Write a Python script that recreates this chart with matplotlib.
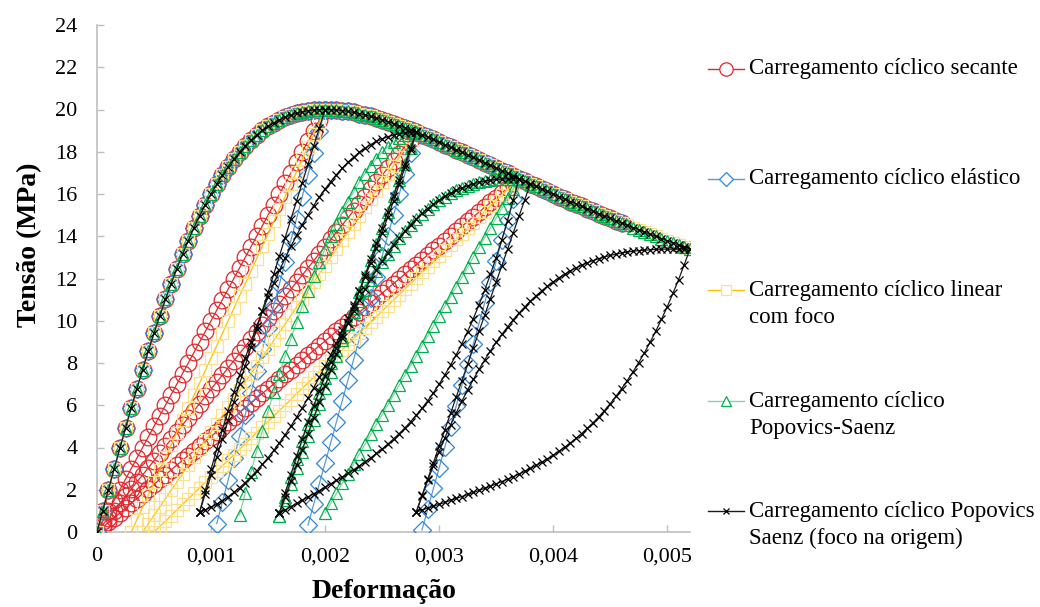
import matplotlib.pyplot as plt
from matplotlib.lines import Line2D
from matplotlib.ticker import FixedLocator

plt.rcParams['font.family'] = ['Liberation Serif', 'DejaVu Serif']

# strain grid used by every model (step 0.00005) and the monotonic envelope
ENV_EPS = [0.0, 0.00005, 0.0001, 0.00015, 0.0002, 0.00025, 0.0003, 0.00035, 0.0004, 0.00045,
           0.0005, 0.00055, 0.0006, 0.00065, 0.0007, 0.00075, 0.0008, 0.00085, 0.0009, 0.00095,
           0.001, 0.00105, 0.0011, 0.00115, 0.0012, 0.00125, 0.0013, 0.00135, 0.0014, 0.00145,
           0.0015, 0.00155, 0.0016, 0.00165, 0.0017, 0.00175, 0.0018, 0.00185, 0.0019, 0.00195,
           0.002, 0.00205, 0.0021, 0.00215, 0.0022, 0.00225, 0.0023, 0.00235, 0.0024, 0.00245,
           0.0025, 0.00255, 0.0026, 0.00265, 0.0027, 0.00275, 0.0028, 0.00285, 0.0029, 0.00295,
           0.003, 0.00305, 0.0031, 0.00315, 0.0032, 0.00325, 0.0033, 0.00335, 0.0034, 0.00345,
           0.0035, 0.00355, 0.0036, 0.00365, 0.0037, 0.00375, 0.0038, 0.00385, 0.0039, 0.00395,
           0.004, 0.00405, 0.0041, 0.00415, 0.0042, 0.00425, 0.0043, 0.00435, 0.0044, 0.00445,
           0.0045, 0.00455, 0.0046, 0.00465, 0.0047, 0.00475, 0.0048, 0.00485, 0.0049, 0.00495,
           0.005, 0.00505, 0.0051, 0.00515, 0.0052]
ENV_SIG = [0.0, 1.0, 2.0, 2.98, 3.96, 4.92, 5.87, 6.79, 7.69, 8.57,
           9.41, 10.23, 11.01, 11.76, 12.47, 13.15, 13.79, 14.40, 14.97, 15.50,
           16.0, 16.46, 16.89, 17.29, 17.65, 17.98, 18.28, 18.55, 18.79, 19.01,
           19.20, 19.37, 19.51, 19.64, 19.74, 19.82, 19.89, 19.94, 19.97, 19.99,
           20.0, 19.99, 19.98, 19.95, 19.91, 19.86, 19.81, 19.74, 19.67, 19.60,
           19.51, 19.42, 19.33, 19.23, 19.13, 19.03, 18.92, 18.81, 18.70, 18.58,
           18.46, 18.34, 18.22, 18.10, 17.98, 17.85, 17.73, 17.61, 17.48, 17.36,
           17.23, 17.11, 16.98, 16.86, 16.73, 16.61, 16.49, 16.36, 16.24, 16.12,
           16.0, 15.88, 15.76, 15.64, 15.53, 15.41, 15.30, 15.18, 15.07, 14.96,
           14.85, 14.74, 14.63, 14.52, 14.41, 14.31, 14.20, 14.10, 14.00, 13.89,
           13.79, 13.69, 13.60, 13.50, 13.40]

# secant model: straight lines back to the origin (grid index 0 upwards)
RED_1 = [0.0, 0.5, 1.0, 1.5, 2.0, 2.5, 3.0, 3.5, 4.0, 4.5, 5.0, 5.5, 6.0, 6.5, 7.0, 7.5, 8.0,
         8.5, 9.0, 9.5, 10.0, 10.5, 11.0, 11.5, 12.0, 12.5, 13.0, 13.5, 14.0, 14.5, 15.0, 15.5,
         16.0, 16.5, 17.0, 17.5, 18.0, 18.5, 19.0, 19.5, 20.0]
RED_2 = [0.0, 0.34, 0.68, 1.01, 1.35, 1.69, 2.03, 2.37, 2.70, 3.04, 3.38, 3.72, 4.05, 4.39,
         4.73, 5.07, 5.41, 5.74, 6.08, 6.42, 6.76, 7.10, 7.43, 7.77, 8.11, 8.45, 8.78, 9.12,
         9.46, 9.80, 10.14, 10.47, 10.81, 11.15, 11.49, 11.83, 12.16, 12.50, 12.84, 13.18,
         13.51, 13.85, 14.19, 14.53, 14.87, 15.20, 15.54, 15.88, 16.22, 16.56, 16.89, 17.23,
         17.57, 17.91, 18.25, 18.58, 18.92]
RED_3 = [0.0, 0.23, 0.45, 0.68, 0.90, 1.13, 1.36, 1.58, 1.81, 2.03, 2.26, 2.49, 2.71, 2.94,
         3.17, 3.39, 3.62, 3.84, 4.07, 4.30, 4.52, 4.75, 4.97, 5.20, 5.43, 5.65, 5.88, 6.10,
         6.33, 6.56, 6.78, 7.01, 7.23, 7.46, 7.69, 7.91, 8.14, 8.37, 8.59, 8.82, 9.04, 9.27,
         9.50, 9.72, 9.95, 10.17, 10.40, 10.63, 10.85, 11.08, 11.30, 11.53, 11.76, 11.98,
         12.21, 12.43, 12.66, 12.89, 13.11, 13.34, 13.56, 13.79, 14.02, 14.24, 14.47, 14.70,
         14.92, 15.15, 15.37, 15.60, 15.83, 16.05, 16.28, 16.50, 16.73]

# elastic model: unloading with the initial modulus
BLUE_1 = [0.4, 1.43, 2.46, 3.49, 4.53, 5.56, 6.59, 7.62, 8.65, 9.68, 10.72, 11.75, 12.78,
          13.81, 14.84, 15.87, 16.91, 17.94, 18.97, 20.0]
BLUE_2 = [0.33, 1.31, 2.29, 3.26, 4.24, 5.22, 6.20, 7.18, 8.16, 9.13, 10.11, 11.09, 12.07,
          13.05, 14.03, 15.00, 15.98, 16.96, 17.94, 18.92]
BLUE_3 = [0.1, 1.08, 2.06, 3.03, 4.01, 4.99, 5.97, 6.95, 7.93, 8.90, 9.88, 10.86, 11.84,
          12.82, 13.80, 14.77, 15.75, 16.73]

# linear model with focal point
YELLOW_1 = [0.0, 0.59, 1.18, 1.76, 2.35, 2.94, 3.53, 4.12, 4.71, 5.29, 5.88, 6.47, 7.06, 7.65,
            8.24, 8.82, 9.41, 10.0, 10.59, 11.18, 11.76, 12.35, 12.94, 13.53, 14.12, 14.71,
            15.29, 15.88, 16.47, 17.06, 17.65, 18.24, 18.82, 19.41, 20.0]
YELLOW_2 = [0.0, 0.39, 0.79, 1.18, 1.58, 1.97, 2.37, 2.76, 3.15, 3.55, 3.94, 4.34, 4.73, 5.12,
            5.52, 5.91, 6.31, 6.70, 7.10, 7.49, 7.88, 8.28, 8.67, 9.07, 9.46, 9.85, 10.25,
            10.64, 11.04, 11.43, 11.83, 12.22, 12.61, 13.01, 13.40, 13.80, 14.19, 14.58, 14.98,
            15.37, 15.77, 16.16, 16.56, 16.95, 17.34, 17.74, 18.13, 18.53, 18.92]
YELLOW_3 = [0.0, 0.26, 0.52, 0.78, 1.05, 1.31, 1.57, 1.83, 2.09, 2.35, 2.61, 2.88, 3.14, 3.40,
            3.66, 3.92, 4.18, 4.44, 4.71, 4.97, 5.23, 5.49, 5.75, 6.01, 6.27, 6.54, 6.80, 7.06,
            7.32, 7.58, 7.84, 8.10, 8.37, 8.63, 8.89, 9.15, 9.41, 9.67, 9.93, 10.19, 10.46,
            10.72, 10.98, 11.24, 11.50, 11.76, 12.02, 12.29, 12.55, 12.81, 13.07, 13.33, 13.59,
            13.85, 14.12, 14.38, 14.64, 14.90, 15.16, 15.42, 15.68, 15.95, 16.21, 16.47, 16.73]

# Popovics-Saenz
GREEN_A1 = [0.80, 1.84, 2.85, 3.83, 4.79, 5.72, 6.62, 7.49, 8.33, 9.15, 9.93, 10.69, 11.41,
            12.11, 12.78, 13.41, 14.01, 14.59, 15.13, 15.64, 16.11, 16.56, 16.96, 17.34, 17.68,
            17.98, 18.24, 18.47, 18.65, 18.79, 18.88, 18.92]
GREEN_L2 = [0.75, 1.51, 2.26, 3.02, 3.78, 4.54, 5.29, 6.05, 6.81, 7.56, 8.32, 9.08, 9.84,
            10.59, 11.35, 12.11, 12.86, 13.62, 14.38, 15.14, 15.89, 16.65, 17.41, 18.16, 18.92]
GREEN_A2 = [0.75, 1.68, 2.59, 3.45, 4.29, 5.09, 5.86, 6.60, 7.31, 7.99, 8.63, 9.25, 9.84, 10.40,
            10.93, 11.44, 11.91, 12.36, 12.79, 13.18, 13.56, 13.91, 14.23, 14.53, 14.81, 15.06,
            15.30, 15.51, 15.70, 15.88, 16.03, 16.17, 16.29, 16.39, 16.48, 16.55, 16.61, 16.65,
            16.69, 16.71, 16.72, 16.73, 16.73]
GREEN_L3 = [0.90, 1.37, 1.83, 2.30, 2.76, 3.23, 3.69, 4.16, 4.62, 5.09, 5.56, 6.02, 6.49, 6.95,
            7.42, 7.88, 8.35, 8.82, 9.28, 9.75, 10.21, 10.68, 11.14, 11.61, 12.07, 12.54, 13.01,
            13.47, 13.94, 14.40, 14.87, 15.33, 15.80, 16.26, 16.73]

# Popovics-Saenz with the focus at the origin
BLACK_L1 = [0.95, 1.82, 2.68, 3.55, 4.41, 5.28, 6.15, 7.01, 7.88, 8.74, 9.61, 10.48, 11.34,
            12.21, 13.07, 13.94, 14.80, 15.67, 16.54, 17.40, 18.27, 19.13, 20.0]
BLACK_A1 = [0.95, 1.97, 2.96, 3.92, 4.85, 5.74, 6.61, 7.44, 8.24, 9.00, 9.74, 10.45, 11.12,
            11.77, 12.38, 12.97, 13.52, 14.04, 14.54, 15.01, 15.45, 15.86, 16.24, 16.59, 16.92,
            17.22, 17.50, 17.74, 17.97, 18.16, 18.34, 18.49, 18.61, 18.71, 18.79, 18.85, 18.89,
            18.91, 18.92]
BLACK_C1 = [0.95, 1.05, 1.18, 1.32, 1.49, 1.67, 1.88, 2.10, 2.34, 2.61, 2.89, 3.20, 3.52, 3.86,
            4.23, 4.61, 5.01, 5.43, 5.88, 6.34, 6.82, 7.33, 7.85, 8.39, 8.95, 9.54, 10.14, 10.76,
            11.40, 12.07, 12.75, 13.45, 14.17, 14.91, 15.67, 16.46, 17.26, 18.08, 18.92]
BLACK_L2 = [0.90, 1.65, 2.40, 3.15, 3.90, 4.65, 5.40, 6.16, 6.91, 7.66, 8.41, 9.16, 9.91, 10.66,
            11.41, 12.16, 12.91, 13.66, 14.41, 15.17, 15.92, 16.67, 17.42, 18.17, 18.92]
BLACK_A2 = [0.90, 1.83, 2.72, 3.58, 4.40, 5.20, 5.96, 6.69, 7.40, 8.07, 8.71, 9.32, 9.90, 10.46,
            10.99, 11.48, 11.96, 12.40, 12.82, 13.22, 13.59, 13.93, 14.25, 14.55, 14.83, 15.08,
            15.31, 15.52, 15.71, 15.89, 16.04, 16.17, 16.29, 16.39, 16.48, 16.55, 16.61, 16.65,
            16.69, 16.71, 16.72, 16.73, 16.73]
BLACK_C2 = [0.90, 1.05, 1.20, 1.35, 1.50, 1.66, 1.81, 1.96, 2.12, 2.28, 2.44, 2.60, 2.77, 2.95,
            3.13, 3.32, 3.51, 3.72, 3.93, 4.16, 4.40, 4.66, 4.93, 5.22, 5.53, 5.86, 6.21, 6.59,
            7.00, 7.43, 7.90, 8.39, 8.92, 9.49, 10.10, 10.76, 11.45, 12.20, 12.99, 13.84, 14.74,
            15.71, 16.73]
BLACK_L3 = [0.95, 1.73, 2.50, 3.28, 4.06, 4.84, 5.61, 6.39, 7.17, 7.94, 8.72, 9.50, 10.27,
            11.05, 11.83, 12.61, 13.38, 14.16, 14.94, 15.71, 16.49]
BLACK_A3 = [0.95, 1.71, 2.44, 3.14, 3.81, 4.45, 5.06, 5.64, 6.20, 6.72, 7.22, 7.70, 8.15, 8.57,
            8.98, 9.35, 9.71, 10.05, 10.36, 10.65, 10.93, 11.18, 11.42, 11.64, 11.84, 12.03,
            12.20, 12.36, 12.50, 12.63, 12.74, 12.85, 12.94, 13.02, 13.09, 13.15, 13.21, 13.25,
            13.29, 13.32, 13.34, 13.36, 13.38, 13.39, 13.39, 13.40, 13.40, 13.40, 13.40]
BLACK_C3 = [0.95, 1.04, 1.13, 1.22, 1.31, 1.40, 1.50, 1.59, 1.68, 1.78, 1.87, 1.97, 2.07, 2.17,
            2.28, 2.39, 2.50, 2.62, 2.74, 2.87, 3.01, 3.15, 3.30, 3.46, 3.63, 3.82, 4.01, 4.21,
            4.43, 4.66, 4.91, 5.17, 5.45, 5.75, 6.07, 6.42, 6.78, 7.17, 7.58, 8.02, 8.48, 8.98,
            9.51, 10.07, 10.66, 11.29, 11.95, 12.66, 13.40]


def on_grid(first, stress):
    return ENV_EPS[first:first + len(stress)], stress


def envelope(last):
    return ENV_EPS[:last + 1], ENV_SIG[:last + 1]


series = [
    dict(label='Carregamento cíclico secante', color='#E3262B', line='#E3262B',
         marker='o', ms=12,
         curves=[envelope(92), on_grid(0, RED_1), on_grid(0, RED_2), on_grid(0, RED_3)]),
    dict(label='Carregamento cíclico elástico', color='#2F86D8', line='#5B9BD5',
         marker='D', ms=9,
         curves=[envelope(92), on_grid(21, BLUE_1), on_grid(37, BLUE_2), on_grid(57, BLUE_3)]),
    dict(label='Carregamento cíclico linear\ncom foco', color='#FFE08A', line='#FFC000',
         marker='s', ms=8.5,
         curves=[envelope(104), on_grid(6, YELLOW_1), on_grid(8, YELLOW_2),
                 on_grid(10, YELLOW_3)]),
    dict(label='Carregamento cíclico\nPopovics-Saenz', color='#00B050', line='#86D3A0',
         marker='^', ms=9,
         curves=[envelope(104), on_grid(25, GREEN_A1), on_grid(32, GREEN_L2),
                 on_grid(32, GREEN_A2), on_grid(40, GREEN_L3)]),
    dict(label='Carregamento cíclico Popovics\nSaenz (foco na origem)', color='black',
         line='#1A1A1A', marker='x', ms=5.5,
         curves=[envelope(104), on_grid(18, BLACK_L1), on_grid(18, BLACK_A1),
                 on_grid(18, BLACK_C1), on_grid(32, BLACK_L2), on_grid(32, BLACK_A2),
                 on_grid(32, BLACK_C2), on_grid(56, BLACK_L3), on_grid(56, BLACK_A3),
                 on_grid(56, BLACK_C3)]),
]

W, H = 1040, 607
fig = plt.figure(figsize=(W / 100, H / 100), dpi=100)
ax = fig.add_axes([97 / W, 1 - 532 / H, (690 - 97) / W, (532 - 25) / H])

for z, s in enumerate(series):
    for x, y in s['curves']:
        ax.plot(x, y, color=s['line'], lw=0.9, marker=s['marker'], ms=s['ms'],
                mfc='none', mec=s['color'], mew=0.9, zorder=2 + z)

ax.set_xlim(0, 0.0052)
ax.set_ylim(0, 24)
ax.xaxis.set_major_locator(FixedLocator([0, 0.001, 0.002, 0.003, 0.004, 0.005]))
ax.set_xticklabels(['0', '0,001', '0,002', '0,003', '0,004', '0,005'])
ax.yaxis.set_major_locator(FixedLocator(list(range(0, 25, 2))))
ax.set_yticklabels([str(v) for v in range(0, 25, 2)])

for side in ('top', 'right'):
    ax.spines[side].set_visible(False)
for side in ('left', 'bottom'):
    ax.spines[side].set_color('#BFBFBF')
    ax.spines[side].set_linewidth(1.2)
ax.tick_params(axis='both', direction='in', length=5, width=1, color='#BFBFBF',
               labelsize=16)
ax.tick_params(axis='x', pad=11)
ax.tick_params(axis='y', pad=14)

fig.text(30 / W, 1 - 245 / H, 'Tensão (MPa)', rotation=90, ha='center', va='center',
         fontsize=20, fontweight='bold')
fig.text(384 / W, 1 - 592 / H, 'Deformação', ha='center', va='center',
         fontsize=20, fontweight='bold')

# legend drawn by hand: marker on the first text line, wrapped labels below
rows = [68.6, 178.7, 290, 401, 511]
for s, yp in zip(series, rows):
    fy = 1 - yp / H
    fig.add_artist(Line2D([707.5 / W, 744 / W], [fy, fy], transform=fig.transFigure,
                          color=s['line'], lw=1))
    fig.add_artist(Line2D([726 / W], [fy], transform=fig.transFigure, marker=s['marker'],
                          ms=s['ms'] * 0.8, mfc='white', mec=s['color'], mew=0.9))
    for i, part in enumerate(s['label'].split('\n')):
        fig.text(749 / W, 1 - (yp + 27.5 * i) / H, part, ha='left', va='center',
                 fontsize=16.5)

fig.savefig('out.png', dpi=100)
